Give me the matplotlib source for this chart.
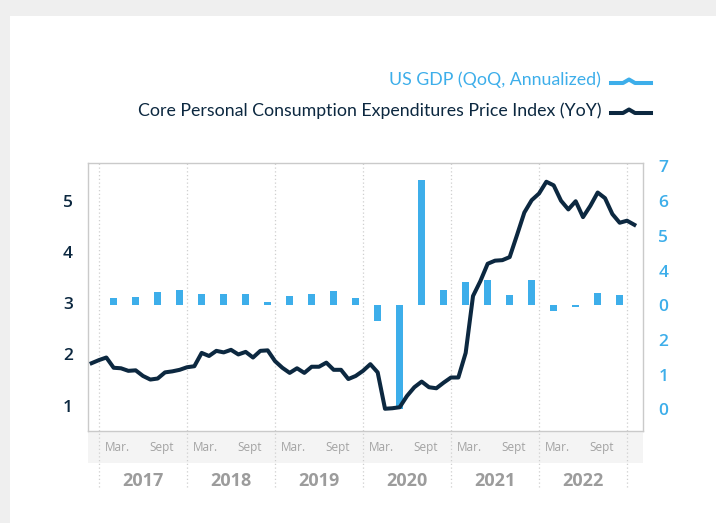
import numpy as np
import matplotlib.pyplot as plt
import matplotlib.transforms as mtransforms
from matplotlib.patches import Rectangle
from matplotlib.lines import Line2D

# Core PCE price index, YoY %, monthly from Dec 2016 to Feb 2023
core_pce = [1.83, 1.89, 1.94, 1.74, 1.73, 1.68, 1.69, 1.58, 1.51, 1.53, 1.65, 1.67,
            1.70, 1.75, 1.77, 2.03, 1.97, 2.07, 2.04, 2.09, 2.00, 2.05, 1.94, 2.07,
            2.08, 1.87, 1.74, 1.64, 1.73, 1.64, 1.76, 1.76, 1.84, 1.70, 1.70, 1.52,
            1.58, 1.68, 1.81, 1.65, 0.94, 0.95, 0.97, 1.19, 1.36, 1.47, 1.36, 1.34,
            1.45, 1.55, 1.55, 2.03, 3.14, 3.43, 3.77, 3.83, 3.84, 3.90, 4.33, 4.77,
            5.01, 5.14, 5.37, 5.30, 5.00, 4.83, 4.99, 4.68, 4.90, 5.16, 5.05, 4.74,
            4.57, 4.61, 4.53]
pce_first_month = -1  # Jan 2017 = 0

# US GDP QoQ annualized %, quarterly 2017 Q1 - 2022 Q4
gdp = [2.0, 2.3, 3.7, 4.3,
       3.2, 3.2, 3.2, 0.9,
       2.6, 3.2, 4.0, 2.0,
       -4.6, -30.0, 36.0, 4.3,
       6.6, 7.2, 2.9, 7.2,
       -1.6, -0.5, 3.4, 2.9]

years = [2017, 2018, 2019, 2020, 2021, 2022]
month_labels = ['Mar.', 'Sept']
left_ticks = [1, 2, 3, 4, 5]
# the right axis labels as printed on the original chart
right_tick_labels = ['0', '1', '2', '0', '4', '5', '6', '7']

navy = '#0c2840'
blue = '#3daeea'
grey_txt = '#a3a3a3'

W, H = 716, 523
fig = plt.figure(figsize=(W / 100, H / 100), dpi=100)
fig.patch.set_facecolor('#efefef')
fig.add_artist(Rectangle((10 / W, 0), 1, 1 - 16 / H, transform=fig.transFigure,
                         facecolor='white', edgecolor='none', zorder=-5))

ax = fig.add_axes([88 / W, 1 - 431 / H, 555 / W, 268 / H])
ax2 = ax.twinx()
ax.set_zorder(2)
ax.patch.set_visible(False)

# bars on the right axis (0 of GDP sits on the 4th tick)
gdp_months = pce_first_month + 3 + 3 * np.arange(len(gdp))
ax2.bar(gdp_months, gdp, width=0.9, color=blue, zorder=2)
ax2.set_ylim(-36.25, 40.98)
ax2.set_yticks(np.arange(-30, 41, 10))
ax2.set_yticklabels(right_tick_labels)
ax2.tick_params(axis='y', length=0, pad=11, labelsize=12.5, labelcolor=blue)
for s in ax2.spines.values():
    s.set_visible(False)

# core PCE line on the left axis
months = pce_first_month + np.arange(len(core_pce))
ax.plot(months, core_pce, color=navy, lw=2.9, zorder=3)
ax.set_ylim(0.506, 5.736)
ax.set_xlim(-1.5, 74.18)
ax.set_yticks(left_ticks)
ax.set_xticks([])
ax.tick_params(axis='y', length=0, pad=11, labelsize=12.5, labelcolor=navy)
for s in ax.spines.values():
    s.set_color('#cacaca')
    s.set_linewidth(1.0)

for t in ax.get_yticklabels() + ax2.get_yticklabels():
    t.set_fontfamily('Open Sans')
    t.set_fontweight('semibold')

# shaded month band below the plot
ax.add_patch(Rectangle((0, -0.119), 1, 0.119, transform=ax.transAxes, clip_on=False,
                       facecolor='#f4f4f4', edgecolor='none', zorder=0))

# dotted year separators
for k in range(len(years) + 1):
    ax.axvline(12 * k, ymin=-0.209, ymax=1, clip_on=False, color='#cfcfcf',
               ls=(0, (1, 2)), lw=0.9, zorder=1)

trans = mtransforms.blended_transform_factory(ax.transData, ax.transAxes)
for k, yr in enumerate(years):
    for lab, off in zip(month_labels, [2.5, 8.5]):
        ax.text(12 * k + off, -0.06, lab, transform=trans, ha='center', va='center',
                color=grey_txt, fontsize=8.5, family='Open Sans')
    ax.text(12 * k + 6, -0.187, str(yr), transform=trans, ha='center', va='center',
            color='#9c9c9c', fontsize=13, family='Open Sans', fontweight='bold')

# legend drawn as text plus a small line icon
leg_font = ['Lato', 'DejaVu Sans']
fig.text(601 / W, 1 - 80 / H, 'US GDP (QoQ, Annualized)', ha='right', va='center',
         color=blue, fontsize=12.8, family=leg_font)
fig.text(601 / W, 1 - 111 / H, 'Core Personal Consumption Expenditures Price Index (YoY)',
         ha='right', va='center', color=navy, fontsize=12.8, family=leg_font)
icon_x = np.array([611, 623, 629, 635, 651]) / W
for base, col in [(83, blue), (113, navy)]:
    icon_y = 1 - np.array([base, base, base - 3.5, base, base]) / H
    fig.add_artist(Line2D(icon_x, icon_y, color=col, lw=2.9, transform=fig.transFigure))

plt.savefig('out.png', dpi=100)
